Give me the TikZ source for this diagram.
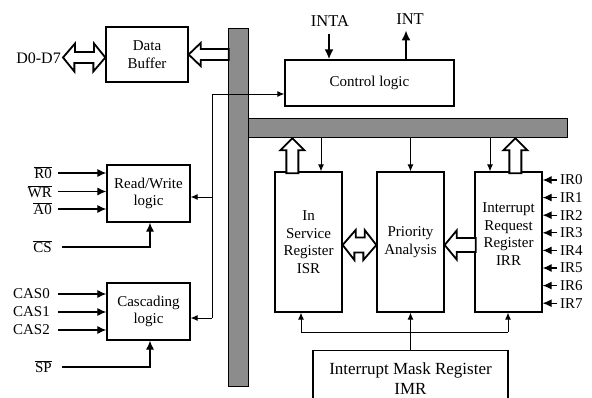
\documentclass[tikz,border=0pt]{standalone}
\usepackage{fontspec}
\setmainfont{Liberation Serif}
\usetikzlibrary{arrows.meta,calc}
\begin{document}
\begin{tikzpicture}[x=1pt,y=-1pt,
  box/.style={draw, line width=1.3pt, inner sep=0pt, align=center, font=\fontsize{15}{17.5}\selectfont},
  busbar/.style={draw, line width=1.3pt, fill=black!45, inner sep=0pt, anchor=north west},
  hollow/.style={draw, line width=1.8pt, fill=white, line join=miter},
  thinarr/.style={line width=0.9pt, -{Latex[length=7pt,width=6pt]}},
  thinline/.style={line width=0.9pt},
  sig/.style={line width=1.1pt, -{Latex[length=9pt,width=8pt]}},
  bigsig/.style={line width=2pt, -{Latex[length=10pt,width=9pt]}},
  lab/.style={inner sep=0pt, font=\fontsize{15}{17}\selectfont},
]
\useasboundingbox (0,0) rectangle (592,398);

% buses
\node[busbar, minimum width=20, minimum height=358] (VB) at (228,28) {};
\node[busbar, minimum width=319, minimum height=19] (HB) at (248,118) {};

% boxes
\node[box, minimum width=82, minimum height=55] (DB) at (147,54.5) {Data\\Buffer};
\node[box, minimum width=169, minimum height=46] (CL) at (369.5,83) {Control logic};
\node[box, minimum width=83, minimum height=57] (RW) at (148.5,193.5) {Read/Write\\logic};
\node[box, minimum width=83, minimum height=57] (CAS) at (148.5,311.5) {Cascading\\logic};
\node[box, minimum width=67, minimum height=140] (ISR) at (308.5,242) {In\\Service\\Register\\ISR};
\node[box, minimum width=67, minimum height=140] (PA) at (410.5,242) {Priority\\Analysis};
\node[box, minimum width=67, minimum height=140,
  label={[align=center, inner sep=0pt, yshift=8pt, font=\fontsize{15}{17.5}\selectfont]center:{Interrupt\\Request\\Register\\IRR}}] (IRR) at (508.5,242) {};
\node[box, anchor=north, minimum width=195, minimum height=56, font=\fontsize{17}{20}\selectfont] (IMR) at (410.5,350) {Interrupt Mask Register\\IMR};

% top signals
\node[lab, font=\fontsize{16.5}{18}\selectfont] (inta) at (330,21) {INTA};
\node[lab, font=\fontsize{16.5}{18}\selectfont] (int) at (410,19) {INT};
\coordinate (intax) at (329,0);
\coordinate (intx) at (406,0);
\draw[bigsig] ($(CL.north -| intax)+(0,-25)$) -- (CL.north -| intax);
\draw[bigsig] (CL.north -| intx) -- ++(0,-29);

% hollow arrows
\draw[hollow] (DB.east) -- ++(12,-11.5) -- ++(0,6) -- ++(28,0) -- ++(0,11) -- ++(-28,0) -- ++(0,6) -- cycle;
\node[lab, anchor=east, font=\fontsize{16}{18}\selectfont] (D) at (61,58) {D0-D7};
\coordinate (dl) at (63,57.5);
\coordinate (dr) at (DB.west |- dl);
\draw[hollow] (dl) -- ++(12,-14) -- ++(0,8.5) -- ++(19,0) -- ++(0,-8.5) -- (dr)
  -- ++(-12,14) -- ++(0,-8.5) -- ++(-19,0) -- ++(0,8.5) -- cycle;
\coordinate (isrup) at ($(ISR.north west)+(18,0)$);
\draw[hollow] (isrup |- HB.south) -- ++(-12,12) -- ++(6,0) -- ++(0,23) -- ++(12,0) -- ++(0,-23) -- ++(6,0) -- cycle;
\coordinate (irrup) at ($(IRR.north west)+(41,0)$);
\draw[hollow] (irrup |- HB.south) -- ++(-12,12) -- ++(6,0) -- ++(0,23) -- ++(12,0) -- ++(0,-23) -- ++(6,0) -- cycle;
\coordinate (ipl) at ($(ISR.east)+(0,3)$);
\coordinate (ipr) at (PA.west |- ipl);
\draw[hollow] (ipl) -- ++(13,-15) -- ++(0,7.5) -- ++(9,0) -- ++(0,-7.5) -- (ipr)
  -- ++(-13,15) -- ++(0,-7.5) -- ++(-9,0) -- ++(0,7.5) -- cycle;
\coordinate (pir) at ($(PA.east)+(0,3)$);
\draw[hollow] (pir) -- ++(12,-14.5) -- ++(0,7.5) -- ++(19,0) -- ++(0,14) -- ++(-19,0) -- ++(0,7.5) -- cycle;

% control line from control logic to RW and cascading
\coordinate (tl) at (212,94);
\coordinate (rwj) at (212,197);
\coordinate (bl) at (212,318);
\draw[thinline] (tl) -- (bl);
\draw[thinarr] (tl) -- (tl -| CL.west);
\draw[thinarr] (rwj) -- (rwj -| RW.east);
\draw[thinarr] (bl) -- (bl -| CAS.east);

% bus to register boxes
\coordinate (isrd) at ($(ISR.north)+(12.5,0)$);
\coordinate (irrd) at ($(IRR.north)+(-18.5,0)$);
\draw[thinarr] (HB.south -| isrd) -- (isrd);
\draw[thinarr] (HB.south -| PA.north) -- (PA.north);
\draw[thinarr] (HB.south -| irrd) -- (irrd);

% IMR connections
\coordinate (hy) at (0,332);
\coordinate (isrb) at ($(ISR.south)+(-7.5,0)$);
\coordinate (irrb) at ($(IRR.south)+(-0.5,0)$);
\draw[thinline] (isrb |- hy) -- (irrb |- hy);
\draw[thinarr] (isrb |- hy) -- (isrb);
\draw[thinarr] (irrb |- hy) -- (irrb);
\draw[thinarr] (IMR.north) -- (PA.south);

% read/write inputs
\node[lab, anchor=east] (r0) at (52,173) {$\overline{\hbox{R0}}$};
\node[lab, anchor=east] (wr) at (52,191.5) {$\overline{\hbox{WR}}$};
\node[lab, anchor=east] (a0) at (52,209) {$\overline{\hbox{A0}}$};
\node[lab, anchor=east] (cs) at (52,247) {$\overline{\hbox{CS}}$};
\draw[sig, shorten <=6pt] (r0.east) -- (r0 -| RW.west);
\draw[sig, shorten <=6pt] (wr.east) -- (wr -| RW.west);
\draw[sig, shorten <=6pt] (a0.east) -- (a0 -| RW.west);
\coordinate (rwb) at ($(RW.south)+(1.5,0)$);
\draw[sig, shorten <=10pt] (cs.east) -| (rwb);

% cascading inputs
\node[lab, anchor=east] (c0) at (50,294) {CAS0};
\node[lab, anchor=east] (c1) at (50,312) {CAS1};
\node[lab, anchor=east] (c2) at (50,330) {CAS2};
\node[lab, anchor=east] (sp) at (52,367) {$\overline{\hbox{SP}}$};
\draw[sig, shorten <=8pt] (c0.east) -- (c0 -| CAS.west);
\draw[sig, shorten <=8pt] (c1.east) -- (c1 -| CAS.west);
\draw[sig, shorten <=8pt] (c2.east) -- (c2 -| CAS.west);
\coordinate (casb) at ($(CAS.south)+(1.5,0)$);
\draw[sig, shorten <=10pt] (sp.east) -| (casb);

% IR inputs
\foreach \i in {0,...,7} {
  \node[lab, anchor=west] (ir\i) at (560,{180+17.6*\i}) {IR\i};
  \draw[sig, shorten <=3pt] (ir\i.west) -- (ir\i -| IRR.east);
}
\end{tikzpicture}
\end{document}
